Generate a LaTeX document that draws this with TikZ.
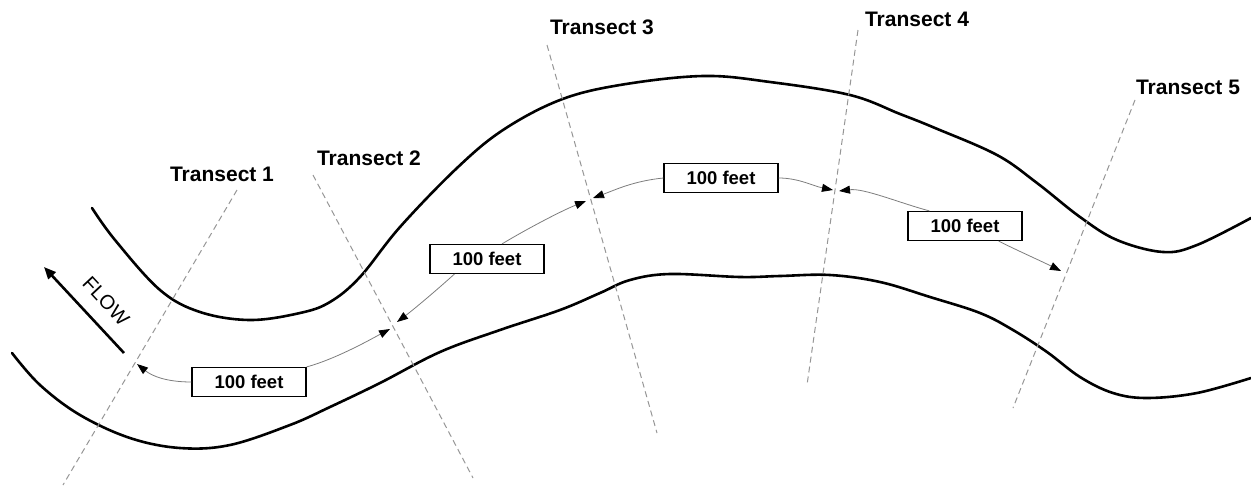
\documentclass[tikz,border=0pt]{standalone}
\usepackage{fontspec}
\setmainfont{Liberation Sans}
\usetikzlibrary{arrows.meta}
\definecolor{dashgray}{RGB}{150,150,150}
\definecolor{arrgray}{RGB}{125,125,125}
\begin{document}
\begin{tikzpicture}[x=1pt,y=-1pt,
  bank/.style={line width=2.6pt, line cap=round, black},
  transect/.style={dashgray, line width=1pt, dash pattern=on 6pt off 4pt},
  tlabel/.style={font=\fontsize{21}{25}\selectfont\bfseries, inner sep=0pt},
  distbox/.style={draw=black, line width=1.2pt, fill=white, minimum width=114pt, minimum height=29pt, inner sep=0pt, font=\fontsize{18.5}{22}\selectfont\bfseries},
  distarrow/.style={arrgray, line width=0.8pt, -{Triangle[length=11pt,width=8pt,color=black]}},
  flowarrow/.style={line width=2.6pt, black, -{Triangle[length=12pt,width=10pt]}}
]
\useasboundingbox (0,0) rectangle (1251,485);

% river banks
\draw[bank] plot[smooth, tension=0.6] coordinates {(92,208) (115,240) (160,290) (200,312) (250,320) (300,313) (330,302) (360,277) (400,227) (457,168) (503,130) (560,100) (620,85) (703,76) (770,82) (850,95) (900,114) (935,128) (997,155) (1037,183) (1080,217) (1117,240) (1163,252) (1197,245) (1251,218)};
\draw[bank] plot[smooth, tension=0.6] coordinates {(12,353) (40,385) (80,415) (130,438) (180,448) (230,445) (290,425) (330,407) (380,383) (440,352) (500,330) (560,310) (600,293) (630,280) (670,274) (740,277) (780,276) (830,275) (880,282) (930,297) (980,313) (1013,330) (1047,352) (1080,377) (1113,393) (1147,398) (1197,393) (1251,378)};

% transects
\coordinate (t1top) at (237,190); \coordinate (t1bot) at (63,485);
\coordinate (t2top) at (313,175); \coordinate (t2bot) at (473,478);
\coordinate (t3top) at (547,45);  \coordinate (t3bot) at (657,433);
\coordinate (t4top) at (858,30);  \coordinate (t4bot) at (807,385);
\coordinate (t5top) at (1135,100); \coordinate (t5bot) at (1013,408);
\draw[transect] (t1top) -- (t1bot);
\draw[transect] (t2top) -- (t2bot);
\draw[transect] (t3top) -- (t3bot);
\draw[transect] (t4top) -- (t4bot);
\draw[transect] (t5top) -- (t5bot);

\node[tlabel] (lab1) at (222,174) {Transect 1};
\node[tlabel] (lab2) at (369,158) {Transect 2};
\node[tlabel] (lab3) at (602,27) {Transect 3};
\node[tlabel] (lab4) at (917,19) {Transect 4};
\node[tlabel] (lab5) at (1188,87) {Transect 5};

% distance boxes
\node[distbox] (b1) at (249,382) {100 feet};
\node[distbox] (b2) at (487,259) {100 feet};
\node[distbox] (b3) at (721,178) {100 feet};
\node[distbox] (b4) at (965,226) {100 feet};

% arrow tips at transects
\coordinate (p1) at (137,364);
\coordinate (p2a) at (390,329);
\coordinate (p2b) at (397,322);
\coordinate (p3a) at (586,201);
\coordinate (p3b) at (593,198);
\coordinate (p4a) at (833,190);
\coordinate (p4b) at (839,191);
\coordinate (p5) at (1061,271);

\draw[distarrow] (b1.west) .. controls +(-25,0) and +(15,12) .. (p1);
\draw[distarrow] (b1.north east) .. controls +(30,-8) and +(-15,8) .. (p2a);
\draw[distarrow] ([xshift=25pt]b2.south west) .. controls +(-20,18) and +(16,-12) .. (p2b);
\draw[distarrow] ([xshift=15pt]b2.north) .. controls +(25,-15) and +(-25,10) .. (p3a);
\draw[distarrow] (b3.west) .. controls +(-30,3) and +(22,-8) .. (p3b);
\draw[distarrow] (b3.east) .. controls +(20,0) and +(-20,-4) .. (p4a);
\draw[distarrow] ([xshift=22pt]b4.north west) .. controls +(-30,-8) and +(25,-3) .. (p4b);
\draw[distarrow] ([xshift=-24pt]b4.south east) .. controls +(20,10) and +(-20,-10) .. (p5);

% flow arrow
\coordinate (fA) at (124,353);
\coordinate (fB) at (44,267);
\draw[flowarrow] (fA) -- (fB);
\node[font=\fontsize{20}{24}\selectfont, rotate=-47, inner sep=0pt] (flow) at (106,301) {FLOW};
\end{tikzpicture}
\end{document}
